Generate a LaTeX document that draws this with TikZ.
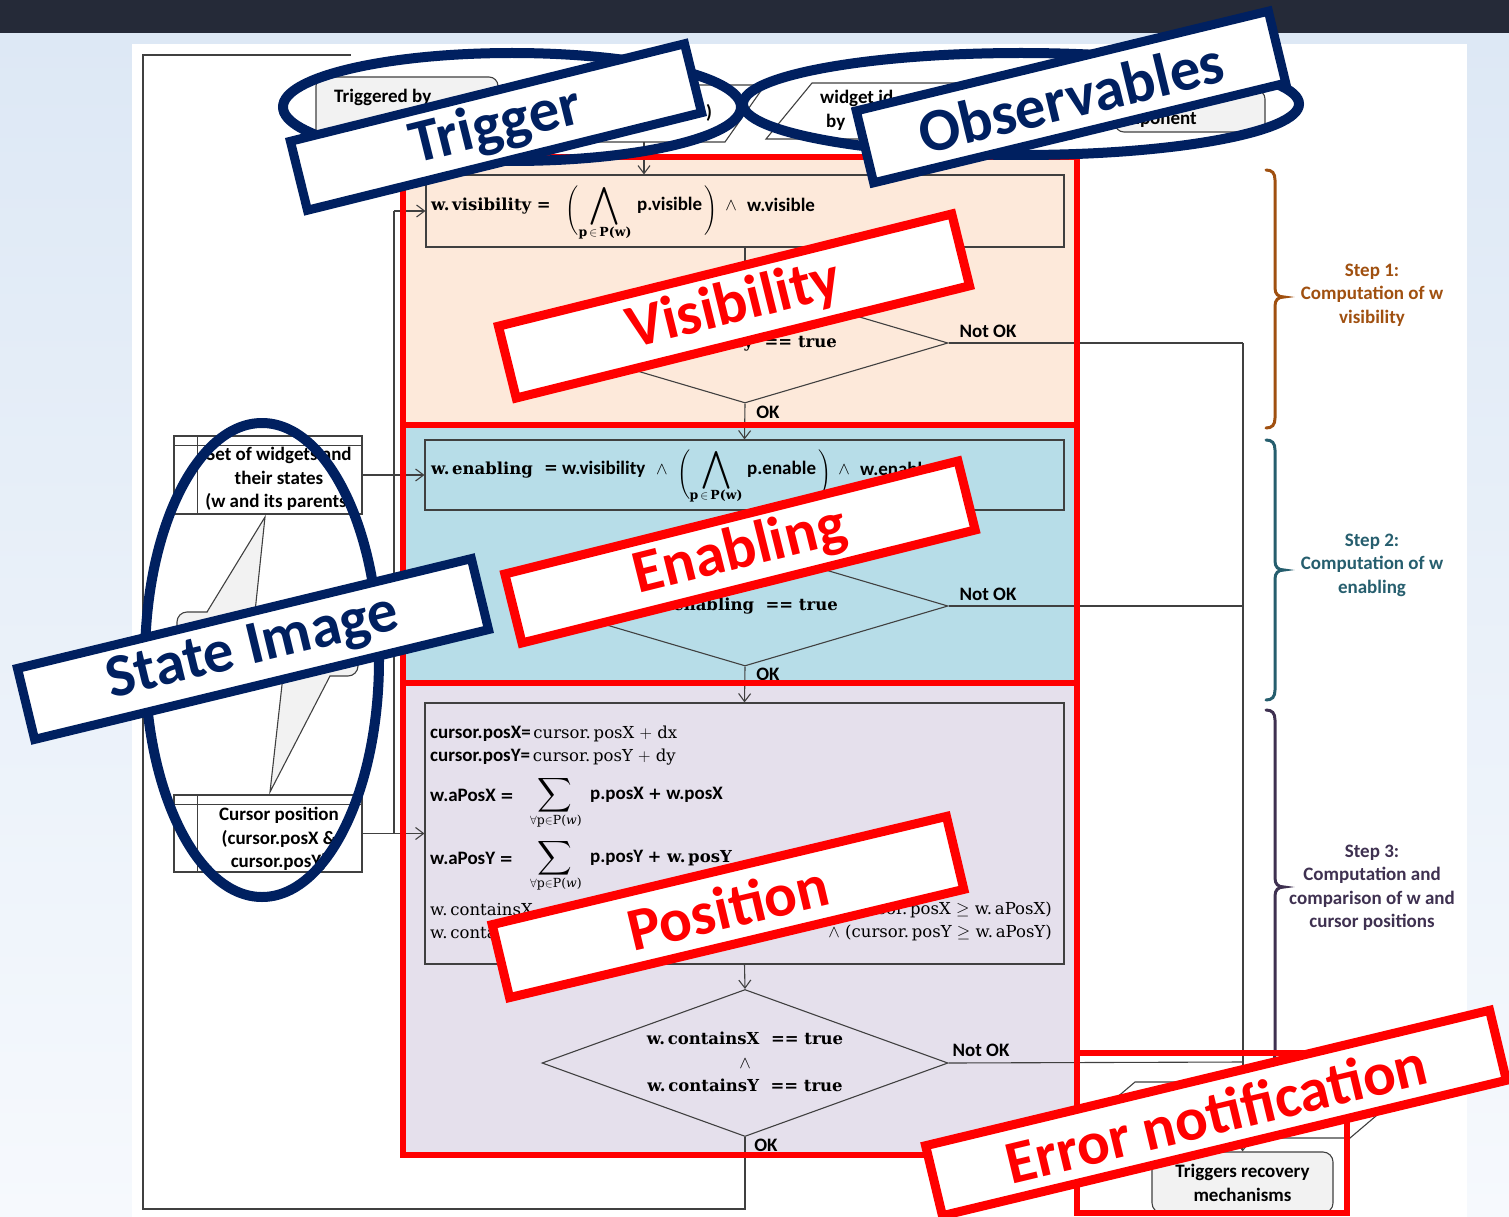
\documentclass[tikz,border=0pt]{standalone}
\usepackage{amsmath,amssymb}
\usepackage{fontspec}
\usetikzlibrary{shapes.geometric,arrows.meta,calc}
\newfontfamily\calib{Carlito}
\newfontfamily\dvs{DejaVu Serif}

\definecolor{topbar}{RGB}{37,42,56}
\definecolor{bgtop}{RGB}{221,232,245}
\definecolor{bgbot}{RGB}{246,249,253}
\definecolor{peach}{RGB}{253,233,218}
\definecolor{skyband}{RGB}{183,221,232}
\definecolor{lilac}{RGB}{229,224,236}
\definecolor{navy}{RGB}{0,32,96}
\definecolor{flow}{RGB}{64,64,64}
\definecolor{paleg}{RGB}{242,242,242}
\definecolor{stepbrown}{RGB}{160,80,16}
\definecolor{stepteal}{RGB}{38,94,110}
\definecolor{steppurple}{RGB}{63,49,81}

% right-facing curly brace: colour, top y, tip y, bottom y
\newcommand\stepbrace[4]{%
  \draw[#1, line width=3pt, line cap=round]
    (1266,#2) .. controls (1272,#2) and (1275,#2+3) .. (1275,#2+10)
    -- (1275,#3-9) .. controls (1275,#3-3) and (1278,#3) .. (1284,#3)
    .. controls (1278,#3) and (1275,#3+3) .. (1275,#3+9)
    -- (1275,#4-10) .. controls (1275,#4-3) and (1272,#4) .. (1266,#4);}

\begin{document}
\begin{tikzpicture}[x=1pt,y=-1pt,
  flowline/.style={draw=flow, line width=1.1pt},
  arrowline/.style={flowline, -{Straight Barb[length=8pt,width=12pt]}},
  procbox/.style={draw=flow, line width=1.1pt, inner sep=0pt},
  decision/.style={diamond, draw=flow, line width=1.1pt, inner sep=0pt},
  lbl/.style={font=\calib\bfseries\fontsize{19}{23.5}\selectfont, inner sep=0pt},
  frm/.style={font=\dvs\fontsize{16.5}{23.5}\selectfont, inner sep=0pt},
  frmb/.style={font=\dvs\bfseries\fontsize{16.5}{23.5}\selectfont, inner sep=0pt},
  bigop/.style={font=\fontsize{27}{27}\selectfont, inner sep=0pt},
  subs/.style={font=\dvs\bfseries\fontsize{12.5}{14}\selectfont, inner sep=0pt},
  tag/.style={draw, fill=white, line width=9pt, inner sep=0pt,
    font=\calib\bfseries\fontsize{61}{61}\selectfont},
  redtag/.style={tag, draw=red, text=red},
  bluetag/.style={tag, draw=navy, text=navy},
  ring/.style={draw=navy, line width=10pt},
  frame/.style={draw=red, line width=6pt}]

\useasboundingbox (0,0) rectangle (1509,1217);

% slide backdrop
\shade[top color=bgtop, bottom color=bgbot] (0,33) rectangle (1509,1217);
\fill[topbar] (0,0) rectangle (1509,33);
\fill[white] (132,44) rectangle (1467,1217);

% coloured step bands
\fill[peach] (403,157) rectangle (1077,425);
\fill[skyband] (403,425) rectangle (1077,683);
\fill[lilac] (403,683) rectangle (1077,1155);

% ---- inputs at the top
\node[procbox, fill=paleg, rounded corners=9pt, minimum width=182pt, minimum height=66pt] (trigsrc) at (407,110) {};
\node[lbl, anchor=west] (trigtxt) at (334,97) {Triggered by};
\draw[flowline, fill=white] (540,85) -- (765,85) -- (725,142) -- (500,142) -- cycle;
\node[lbl] (trigend) at (709,113) {)};
\coordinate (trigout) at (644,142);

\draw[flowline, fill=white] (812,83) -- (1110,83) -- (1072,139) -- (766,139) -- cycle;
\node[lbl, anchor=west] (widtxt) at (820,98) {widget id};
\node[lbl, anchor=west] (widby) at (826,122) {by};
\node[procbox, fill=paleg, rounded corners=9pt, minimum width=150pt, minimum height=42pt] (comp) at (1190,111) {};
\node[lbl, anchor=east] (comptxt) at (1197,120) {component};

% ---- step 1: visibility
\node[procbox, fill=peach, minimum width=638pt, minimum height=72pt] (visbox) at (745,211) {};
\node[frmb, anchor=west] (vf1) at (431,206) {w.\,visibility =};
\node[frm] (vf2) at (572,211) {$\Biggl($};
\node[bigop] (vf3) at (604,206) {$\displaystyle\bigwedge$};
\node[subs] (vf4) at (605,233) {p\,$\in$\,P(w)};
\node[lbl, anchor=west] (vf5) at (637,205) {p.visible};
\node[frm] (vf6) at (711,211) {$\Biggr)$};
\node[frm] (vf7) at (731,206) {$\wedge$};
\node[lbl, anchor=west] (vf8) at (747,205) {w.visible};
\node[decision, minimum width=406pt, minimum height=120pt] (visdec) at (745,343) {};
\node[frmb] (visq) at (745,343) {w.\,visibility\ \ == true};
\node[lbl] (visno) at (988,331) {Not OK};
\node[lbl] (visok) at (768,412) {OK};

% ---- step 2: enabling
\node[procbox, fill=skyband, minimum width=639pt, minimum height=70pt] (enbox) at (744.5,475) {};
\node[frmb, anchor=west] (ef1) at (431,470) {w.\,enabling};
\node[frmb] (ef1b) at (551,470) {=};
\node[lbl, anchor=west] (ef2) at (562,469) {w.visibility};
\node[frm] (ef3) at (662,470) {$\wedge$};
\node[frm] (ef4) at (684,475) {$\Biggl($};
\node[bigop] (ef5) at (716,470) {$\displaystyle\bigwedge$};
\node[subs] (ef6) at (716,496) {p\,$\in$\,P(w)};
\node[lbl, anchor=west] (ef7) at (747,469) {p.enable};
\node[frm] (ef8) at (825,475) {$\Biggr)$};
\node[frm] (ef9) at (844,470) {$\wedge$};
\node[lbl, anchor=west] (ef10) at (860,469) {w.enable};
\node[decision, minimum width=406pt, minimum height=120pt] (endec) at (745,606) {};
\node[frmb] (enq) at (745,606) {w.\,enabling\ \ == true};
\node[lbl] (enno) at (988,594) {Not OK};
\node[lbl] (enok) at (768,674) {OK};

% ---- step 3: positions
\node[procbox, fill=lilac, minimum width=639pt, minimum height=261pt] (posbox) at (744.5,833.5) {};
\node[frm, anchor=west] (pl1) at (430,734) {{\calib\bfseries\fontsize{19}{23}\selectfont cursor.posX=}\,cursor.\,posX $+$ dx};
\node[frm, anchor=west] (pl2) at (430,757) {{\calib\bfseries\fontsize{19}{23}\selectfont cursor.posY=}\,cursor.\,posY $+$ dy};
\node[lbl, anchor=west] (pl3) at (430,795) {w.aPosX {\dvs\fontsize{16.5}{20}\selectfont =}};
\node[inner sep=0pt, font=\fontsize{24}{24}\selectfont] (sum1) at (555,795) {$\displaystyle\sum$};
\node[inner sep=0pt, font=\dvs\fontsize{12.5}{14}\selectfont] (sub1) at (556,821) {$\forall$p$\in$P(\textit{w})};
\node[lbl, anchor=west] (pr3) at (590,795) {p.posX {\dvs\fontsize{16.5}{20}\selectfont +} w.posX};
\node[lbl, anchor=west] (pl4) at (430,858) {w.aPosY {\dvs\fontsize{16.5}{20}\selectfont =}};
\node[inner sep=0pt, font=\fontsize{24}{24}\selectfont] (sum2) at (555,858) {$\displaystyle\sum$};
\node[inner sep=0pt, font=\dvs\fontsize{12.5}{14}\selectfont] (sub2) at (556,884) {$\forall$p$\in$P(\textit{w})};
\node[lbl, anchor=west] (pr4) at (590,858) {p.posY {\dvs\fontsize{16.5}{20}\selectfont + w.\,posY}};
\node[frm, anchor=west] (pl5) at (430,910) {w.\,containsX};
\node[frm, anchor=east] (pr5) at (1052,910) {$\wedge$ (cursor.\,posX $\geq$ w.\,aPosX)};
\node[frm, anchor=west] (pl6) at (430,933) {w.\,containsY};
\node[frm, anchor=east] (pr6) at (1052,933) {$\wedge$ (cursor.\,posY $\geq$ w.\,aPosY)};
\node[decision, minimum width=406pt, minimum height=147pt] (posdec) at (745,1063) {};
\node[frmb, align=center] (posq) at (745,1062) {w.\,containsX\ \ == true\\$\wedge$\\w.\,containsY\ \ == true};
\node[lbl] (posno) at (981,1050) {Not OK};
\node[lbl] (posok) at (766,1145) {OK};

% ---- error handling
\coordinate (bus1) at (1243,343);
\coordinate (bus2) at (1243,606);
\coordinate (bus3) at (1243,1062);
\draw[flowline, fill=white] (1135,1082) -- (1350,1082) -- (1383,1110) -- (1350,1138) -- (1135,1138) -- (1102,1110) -- cycle;
\coordinate (prepN) at (1243,1082);
\coordinate (prepS) at (1243,1138);
\node[procbox, fill=paleg, rounded corners=10pt, minimum width=181pt, minimum height=61pt] (recov) at (1242.5,1182.5) {};
\node[lbl, align=center] (recovtxt) at (1242.5,1183) {Triggers recovery\\mechanisms};

% ---- state stores on the left
\node[procbox, fill=white, minimum width=188pt, minimum height=78pt] (wset) at (268,475) {};
\draw[flowline] ($(wset.north west)+(0,10)$) -- ($(wset.north east)+(0,10)$);
\draw[flowline] ($(wset.north west)+(24,0)$) -- ($(wset.south west)+(24,0)$);
\node[lbl, align=center] (wsettxt) at (279,479) {Set of widgets and\\their states\\(w and its parents)};
\node[procbox, fill=white, minimum width=188pt, minimum height=77pt] (cpos) at (268,833.5) {};
\draw[flowline] ($(cpos.north west)+(0,10)$) -- ($(cpos.north east)+(0,10)$);
\draw[flowline] ($(cpos.north west)+(24,0)$) -- ($(cpos.south west)+(24,0)$);
\node[lbl, align=center] (cpostxt) at (279,839) {Cursor position\\(cursor.posX \&\\cursor.posY)};

% callout joining the two stores
\draw[flowline, fill=paleg, rounded corners=10pt] (177,612) rectangle (358,676);
\fill[paleg] (207,613.5) -- (265,517) -- (255,613.5) -- cycle;
\draw[flowline] (207,612) -- (265,517) -- (255,612);
\fill[paleg] (283,674.5) -- (270,792) -- (330,674.5) -- cycle;
\draw[flowline] (283,676) -- (270,792) -- (330,676);

% ---- connectors
\coordinate (lbusT) at (394,211);
\coordinate (lbusB) at (394,833.5);
\coordinate (loopSW) at (143,1209);
\coordinate (loopN) at (351,55);
\draw[arrowline] (trigout) -- (trigout |- visbox.north);
\draw[arrowline] (visbox.south) -- (visdec.north);
\draw[arrowline] (visdec.south) -- (enbox.north);
\draw[arrowline] (enbox.south) -- (endec.north);
\draw[arrowline] (endec.south) -- (posbox.north);
\draw[arrowline] (posbox.south) -- (posdec.north);
\draw[flowline] (posdec.south) |- (loopSW) |- (loopN);
\draw[flowline] (visdec.east) -- (bus1);
\draw[flowline] (endec.east) -- (bus2);
\draw[flowline] (posdec.east) -- (bus3);
\draw[flowline] (bus1) -- (bus3);
\draw[arrowline] (bus3) -- (prepN);
\draw[arrowline] (prepS) -- (recov.north);
\draw[flowline] (lbusT) -- (lbusB);
\draw[arrowline] (lbusT) -- (visbox.west);
\draw[arrowline] (wset.east) -- (enbox.west);
\draw[arrowline] (cpos.east) -- (posbox.west);

% ---- step braces
\stepbrace{stepbrown}{170}{297}{428}
\stepbrace{stepteal}{440}{570}{700}
\stepbrace{steppurple}{710}{887}{1064}
\node[lbl, text=stepbrown, align=center] (step1) at (1372,295) {Step 1:\\Computation of w\\visibility};
\node[lbl, text=stepteal, align=center] (step2) at (1372,565) {Step 2:\\Computation of w\\enabling};
\node[lbl, text=steppurple, align=center] (step3) at (1372,888) {Step 3:\\Computation and\\comparison of w and\\cursor positions};

% ---- red section frames
\draw[frame] (403,157) rectangle (1077,425);
\draw[frame] (403,425) rectangle (1077,683);
\draw[frame] (403,683) rectangle (1077,1155);
\draw[frame] (1077,1053) rectangle (1347,1213);

% ---- highlight rings
\draw[ring] (512,107) ellipse [x radius=229pt, y radius=54pt];
\draw[ring] (1021,104) ellipse [x radius=278pt, y radius=51pt];
\draw[ring] (262,660) ellipse [x radius=117pt, y radius=237pt];

% ---- tags
\node[bluetag, rotate=13.9, minimum width=406pt, minimum height=71pt] (tagtrig) at (496,127) {Trigger};
\node[bluetag, rotate=13.6, minimum width=424pt, minimum height=74pt] (tagobs) at (1071,97) {Observables};
\node[bluetag, rotate=13.6, minimum width=467pt, minimum height=73pt] (tagstate) at (253,649) {State Image};
\node[redtag, rotate=13.9, minimum width=467pt, minimum height=74pt] (tagvis) at (734,306) {Visibility};
\node[redtag, rotate=14, minimum width=467pt, minimum height=71pt] (tagen) at (740,552) {Enabling};
\node[redtag, rotate=13.4, minimum width=467pt, minimum height=75pt] (tagpos) at (728,907) {Position};
\node[redtag, rotate=13.5, minimum width=580pt, minimum height=72pt] (tagerr) at (1216,1113) {Error notification};

\end{tikzpicture}
\end{document}
